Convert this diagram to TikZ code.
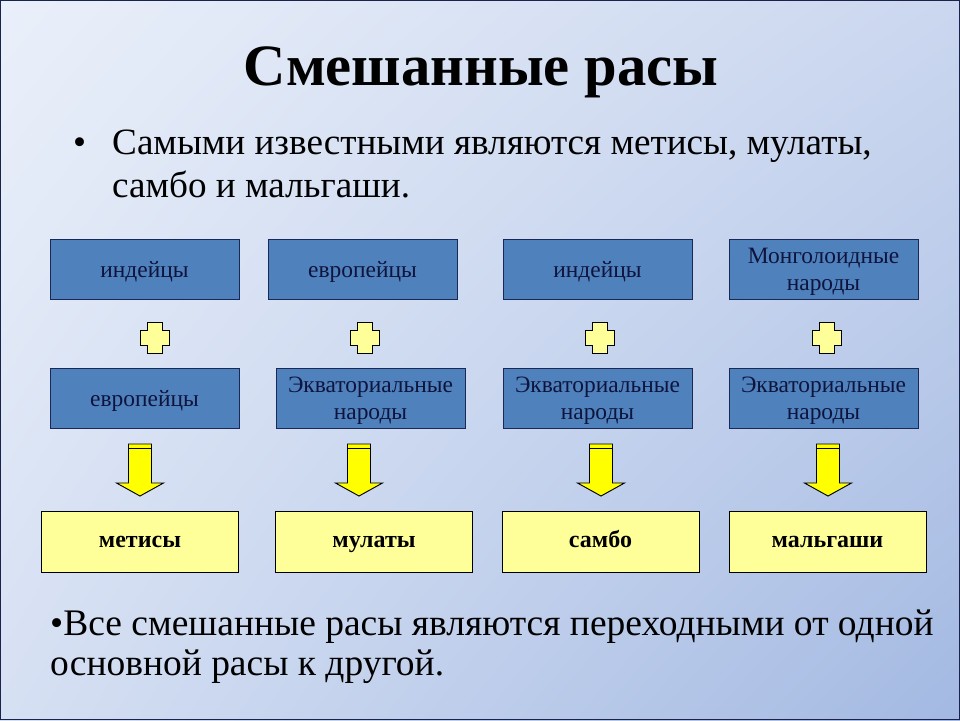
\documentclass[tikz,border=0pt]{standalone}
\usepackage{fontspec}
\setmainfont{Liberation Serif}
\usetikzlibrary{positioning,shadings}
\definecolor{bgTL}{RGB}{234,240,250}
\definecolor{bgTR}{RGB}{203,215,239}
\definecolor{bgBL}{RGB}{214,224,243}
\definecolor{bgBR}{RGB}{163,185,226}
\definecolor{cFrame}{RGB}{25,35,75}
\definecolor{cBox}{RGB}{79,129,189}
\definecolor{cBoxLine}{RGB}{25,40,85}
\definecolor{cBoxText}{RGB}{15,20,60}
\definecolor{cResult}{RGB}{255,255,153}
\definecolor{cArrow}{RGB}{255,255,0}

% plus sign centred at (#1,#2)
\newcommand{\plusmark}[2]{%
  \draw[plusshape] (#1-7.5,#2-15.5) -- (#1+7.5,#2-15.5) -- (#1+7.5,#2-7.5)
    -- (#1+14.5,#2-7.5) -- (#1+14.5,#2+7.5) -- (#1+7.5,#2+7.5)
    -- (#1+7.5,#2+15.5) -- (#1-7.5,#2+15.5) -- (#1-7.5,#2+7.5)
    -- (#1-14.5,#2+7.5) -- (#1-14.5,#2-7.5) -- (#1-7.5,#2-7.5) -- cycle;}
% striped down arrow, axis at x=#1
\newcommand{\stripearrow}[1]{%
  \draw[arrowshape] (#1-11.5,444) -- (#1+11.5,444) -- (#1+11.5,483)
    -- (#1+23.5,483) -- (#1,496) -- (#1-23.5,483) -- (#1-11.5,483) -- cycle;
  \draw[line width=1.3pt] (#1-11.5,448.5) -- (#1+11.5,448.5);}

\begin{document}
\begin{tikzpicture}[
    x=0.3mm, y=-0.3mm,
    srcbox/.style={rectangle,draw=cBoxLine,line width=0.8pt,fill=cBox,
      minimum width=189*0.3mm,minimum height=60*0.3mm,inner sep=0pt,
      text depth=0pt,
      align=center,text=cBoxText,font=\fontsize{20}{23}\selectfont},
    resbox/.style={rectangle,draw=black,line width=0.8pt,fill=cResult,
      minimum width=197*0.3mm,minimum height=61*0.3mm,inner sep=0pt,
      text height=2.2ex,text depth=0pt,
      font=\fontsize{20.5}{24}\selectfont\bfseries},
    plusshape/.style={draw=black,line width=0.8pt,fill=cResult},
    arrowshape/.style={draw=black,line width=0.8pt,fill=cArrow},
    leadtext/.style={anchor=base west,inner sep=0pt,font=\fontsize{31.7}{37}\selectfont},
    notetext/.style={anchor=base west,inner sep=0pt,font=\fontsize{32}{38}\selectfont}
  ]
  % background
  \shade[upper left=bgTL,upper right=bgTR,lower left=bgBL,lower right=bgBR]
    (0,0) rectangle (960,720);
  \draw[cFrame,line width=0.8pt] (0.5,0.5) rectangle (959.5,719.5);
  \useasboundingbox (0,0) rectangle (960,720);

  \node[anchor=base,inner sep=0pt,font=\fontsize{50}{56}\selectfont\bfseries] (title) at (481,85) {Смешанные расы};
  \node[leadtext] (dot) at (73,154) {•};
  \node[leadtext] (lead1) at (112,154) {Самыми известными являются метисы, мулаты,};
  \node[leadtext] (lead2) at (112,197) {самбо и мальгаши.};

  % parents
  \node[srcbox] (top1) at (144.5,269.5) {индейцы};
  \node[srcbox] (top2) at (362.5,269.5) {европейцы};
  \node[srcbox] (top3) at (597.5,269.5) {индейцы};
  \node[srcbox] (top4) at (823.5,269.5) {Монголоидные\\народы};
  \node[srcbox] (mid1) at (144.5,398) {европейцы};
  \node[srcbox] (mid2) at (370.5,398) {Экваториальные\\народы};
  \node[srcbox] (mid3) at (597.5,398) {Экваториальные\\народы};
  \node[srcbox] (mid4) at (823.5,398) {Экваториальные\\народы};

  % results
  \node[resbox] (res1) at (140,542) {метисы};
  \node[resbox] (res2) at (374,542) {мулаты};
  \node[resbox] (res3) at (600.5,542) {самбо};
  \node[resbox] (res4) at (827.5,542) {мальгаши};

  \foreach \px in {155,365,600,827} {\plusmark{\px}{338}}
  \foreach \ax in {140,359,601,828} {\stripearrow{\ax}}

  \node[notetext] (note1) at (50,635) {•Все смешанные расы являются переходными от одной};
  \node[notetext] (note2) at (50,675) {основной расы к другой.};
\end{tikzpicture}
\end{document}
